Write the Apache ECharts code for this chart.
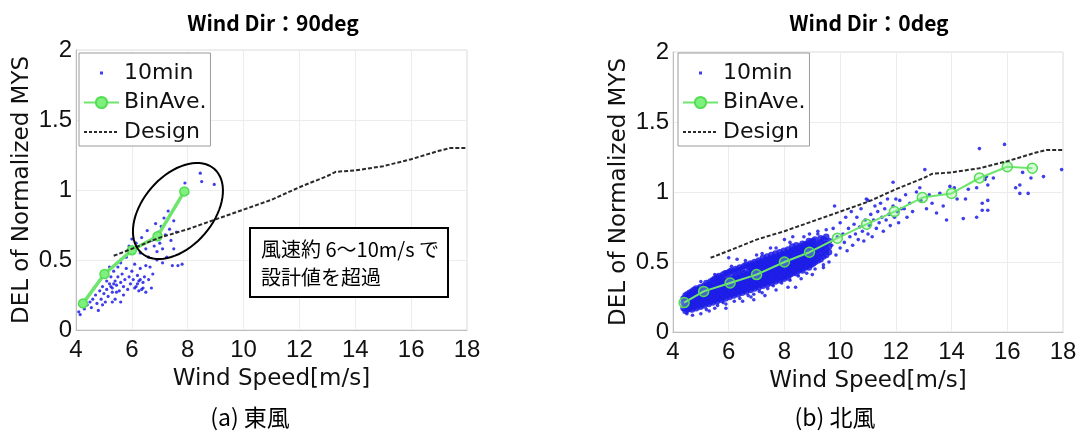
<!DOCTYPE html>
<html><head><meta charset="utf-8">
<script src="https://cdn.jsdelivr.net/npm/echarts@6/dist/echarts.min.js"></script>
<style>html,body{margin:0;padding:0;background:#fff}#c{width:1089px;height:437px}</style>
</head><body><div id="c"></div>
<script>
// ---------- data ----------
const xMin = 4, xMax = 18, xStep = 2;
const yMin = 0, yMax = 2, yStep = 0.5;
const titles = ['Wind Dir：90deg', 'Wind Dir：0deg'];
const captions = ['(a) 東風', '(b) 北風'];
const xName = 'Wind Speed[m/s]';
const yName = 'DEL of Normalized MYS';
const legendNames = ['10min', 'BinAve.', 'Design'];
const noteLines = ['風速約 6～10m/s で', '設計値を超過'];

// Design curve (same in both panels)
const design = [[5.35,0.53],[6,0.58],[7,0.66],[8,0.72],[9,0.79],[10,0.86],[11,0.93],[12,1.02],[13,1.1],[13.3,1.13],[14,1.14],[15,1.17],[16,1.22],[17,1.28],[17.4,1.3],[18,1.3]];

// East wind (90deg)
const eastBin = [[4.25,0.19],[5.02,0.4],[6.0,0.57],[6.92,0.67],[7.88,0.99]];
const east10 = [[4.1,0.13],[4.15,0.11],[4.3,0.15],[4.4,0.18],[4.5,0.2],[4.6,0.22],[4.55,0.16],[4.7,0.25],[4.75,0.19],[4.8,0.14],[4.85,0.28],[4.9,0.22],[4.95,0.31],[5.0,0.26],[5.05,0.2],[5.1,0.35],[5.1,0.29],[5.15,0.24],[5.2,0.33],[5.25,0.38],[5.3,0.3],[5.3,0.27],[5.35,0.42],[5.4,0.35],[5.4,0.22],[5.45,0.32],[5.5,0.45],[5.5,0.38],[5.55,0.28],[5.6,0.34],[5.6,0.48],[5.65,0.4],[5.7,0.31],[5.7,0.25],[5.75,0.36],[5.8,0.44],[5.8,0.52],[5.85,0.29],[5.9,0.38],[5.9,0.6],[5.95,0.33],[6.0,0.42],[6.0,0.55],[6.05,0.36],[6.1,0.3],[6.1,0.47],[6.15,0.62],[6.2,0.39],[6.2,0.33],[6.25,0.28],[6.3,0.36],[6.3,0.44],[6.35,0.66],[6.4,0.3],[6.4,0.34],[6.45,0.38],[6.5,0.27],[6.5,0.58],[6.55,0.71],[6.6,0.36],[6.6,0.52],[6.65,0.45],[6.7,0.64],[6.7,0.3],[6.75,0.4],[6.8,0.6],[6.85,0.76],[6.9,0.5],[6.9,0.56],[6.95,0.7],[7.0,0.62],[7.05,0.74],[7.1,0.58],[7.1,0.48],[7.15,0.8],[7.2,0.68],[7.25,0.52],[7.3,0.85],[7.35,0.72],[7.4,0.64],[7.45,0.46],[7.5,0.58],[7.5,0.78],[7.6,0.7],[7.65,0.46],[7.8,0.47],[7.9,1.05],[8.0,0.98],[8.45,1.12],[8.5,1.06],[8.95,1.04],[6.0,0.65],[5.6,0.5],[6.3,0.55],[6.5,0.46],[5.2,0.45],[4.95,0.18],[5.3,0.2],[4.65,0.3],[5.6,0.2],[5.35,0.33],[5.45,0.27],[5.25,0.31],[6.15,0.31],[6.35,0.29],[6.25,0.35]];

// North wind (0deg)
const northBin = [[4.4,0.21],[5.1,0.29],[6.05,0.35],[7.0,0.41],[8.0,0.5],[8.9,0.57],[9.9,0.67],[10.95,0.77],[11.95,0.86],[12.95,0.96],[14.0,0.99],[15.0,1.1],[16.0,1.18],[16.9,1.17]];
// dense core of the 10-min cloud: [wind speed, [DEL values]]
const northBand = [
 [4.38,[.17,.21,.24]],[4.45,[.15,.19,.23,.26]],[4.52,[.16,.2,.24,.27]],[4.6,[.17,.21,.25,.28]],[4.68,[.16,.2,.23,.27,.29]],
 [4.75,[.18,.22,.26,.3]],[4.83,[.17,.21,.25,.28,.31]],[4.9,[.19,.23,.27,.3]],[4.98,[.18,.22,.26,.29,.32]],[5.05,[.2,.24,.28,.31]],
 [5.12,[.19,.23,.27,.3,.33]],[5.2,[.21,.25,.29,.32,.35]],[5.28,[.2,.24,.28,.31,.34]],[5.35,[.22,.26,.3,.33,.36]],[5.43,[.21,.25,.29,.32,.37]],
 [5.5,[.23,.27,.31,.34,.38]],[5.58,[.22,.26,.3,.35,.39]],[5.65,[.24,.28,.32,.36,.4]],[5.73,[.23,.27,.31,.35,.39]],[5.8,[.25,.29,.33,.37,.41]],
 [5.88,[.24,.28,.32,.36,.42]],[5.95,[.26,.3,.34,.38,.42]],[6.03,[.25,.29,.33,.37,.43]],[6.1,[.27,.31,.35,.39,.44]],[6.18,[.26,.3,.34,.38,.43]],
 [6.25,[.28,.32,.36,.4,.45]],[6.33,[.27,.31,.35,.39,.44]],[6.4,[.29,.33,.37,.41,.46]],[6.48,[.28,.32,.36,.4,.45]],[6.55,[.3,.34,.38,.42,.47]],
 [6.63,[.29,.33,.37,.41,.48]],[6.7,[.31,.35,.39,.43,.47]],[6.78,[.3,.34,.38,.42,.46,.49]],[6.85,[.32,.36,.4,.44,.48]],[6.93,[.31,.35,.39,.43,.47,.5]],
 [7.0,[.33,.37,.41,.45,.49]],[7.08,[.32,.36,.4,.44,.48,.51]],[7.15,[.34,.38,.42,.46,.5]],[7.23,[.33,.37,.41,.45,.49,.53]],[7.3,[.35,.39,.43,.47,.51]],
 [7.38,[.34,.38,.42,.46,.5,.54]],[7.45,[.36,.4,.44,.48,.52]],[7.53,[.35,.39,.43,.47,.51,.55]],[7.6,[.37,.41,.45,.49,.53]],[7.68,[.36,.4,.44,.48,.52,.56]],
 [7.75,[.38,.42,.46,.5,.54]],[7.83,[.37,.41,.45,.49,.53,.57]],[7.9,[.39,.43,.47,.51,.55]],[7.98,[.38,.42,.46,.5,.54,.58]],[8.05,[.4,.44,.48,.52,.56]],
 [8.13,[.39,.43,.47,.51,.55,.59]],[8.2,[.41,.45,.49,.53,.57]],[8.28,[.42,.46,.5,.54,.58,.61]],[8.35,[.43,.47,.51,.55,.59]],[8.43,[.42,.46,.5,.54,.58,.62]],
 [8.5,[.44,.48,.52,.56,.6]],[8.58,[.45,.49,.53,.57,.61]],[8.65,[.44,.48,.52,.56,.6,.63]],[8.73,[.46,.5,.54,.58,.62]],[8.8,[.47,.51,.55,.59,.63]],
 [8.88,[.46,.5,.54,.58,.62,.65]],[8.95,[.48,.52,.56,.6,.64]],[9.03,[.49,.53,.57,.61,.65]],[9.1,[.5,.54,.58,.62,.66]],[9.2,[.51,.55,.59,.63]],
 [9.3,[.52,.56,.6,.64,.67]],[9.4,[.54,.58,.62,.66]],[9.5,[.55,.59,.63,.68]],[9.6,[.57,.61,.65]]
];
const northSparse = [[4.5,0.13],[4.7,0.12],[5.0,0.13],[5.3,0.15],[5.5,0.17],[5.9,0.2],[6.0,0.53],[6.3,0.52],[6.5,0.22],[6.8,0.25],[7.0,0.55],[7.2,0.28],[7.5,0.6],[7.7,0.3],[8.13,0.32],[8.4,0.32],[8.0,0.66],[8.3,0.68],[8.6,0.38],[8.9,0.7],[9.0,0.41],[9.2,0.72],[9.4,0.46],[9.6,0.5],[9.7,0.62],[9.75,0.74],[9.8,0.9],[9.85,0.55],[9.9,0.68],[10.0,0.6],[10.0,0.78],[10.1,0.7],[10.15,0.64],[10.2,0.82],[10.25,0.58],[10.3,0.74],[10.35,0.68],[10.4,0.86],[10.45,0.62],[10.5,0.77],[10.55,0.7],[10.6,0.82],[10.65,0.66],[10.7,0.75],[10.75,0.88],[10.8,0.72],[10.85,0.65],[10.9,0.8],[10.94,0.95],[11.0,0.94],[11.0,0.7],[11.05,0.76],[11.1,0.84],[11.15,0.68],[11.2,0.8],[11.25,0.9],[11.3,0.74],[11.35,0.86],[11.4,0.78],[11.45,0.92],[11.5,0.82],[11.55,0.72],[11.6,0.88],[11.65,0.8],[11.7,0.95],[11.75,0.84],[11.8,0.76],[11.9,1.07],[11.9,0.9],[11.95,0.82],[12.0,0.95],[12.05,0.86],[12.1,0.78],[12.14,0.94],[12.2,0.88],[12.3,0.88],[12.35,0.98],[12.4,0.82],[12.5,0.92],[12.6,0.86],[12.74,1.0],[12.86,1.03],[12.9,0.94],[13.04,1.16],[13.1,0.88],[13.2,0.98],[13.3,0.92],[13.46,0.85],[13.58,0.99],[13.7,0.9],[13.82,0.8],[13.94,1.04],[14.1,1.03],[14.2,0.95],[14.42,0.81],[14.5,0.95],[14.6,1.02],[14.9,0.82],[14.9,1.03],[15.0,1.31],[15.1,0.87],[15.1,0.92],[15.2,1.09],[15.25,1.11],[15.3,1.05],[15.3,0.94],[15.3,0.87],[15.5,1.1],[15.9,1.34],[16.3,1.03],[16.45,1.05],[16.45,0.99],[16.55,1.14],[16.75,0.99],[16.85,1.1],[17.3,1.11],[17.95,1.16],
 [5.2,0.16],[5.6,0.19],[5.8,0.21],[6.2,0.22],[6.4,0.24],[6.7,0.26],[6.9,0.27],[7.1,0.29],[7.4,0.31],[7.6,0.33],[7.9,0.35],[8.2,0.37],[8.5,0.4],[8.8,0.42],[9.1,0.45],[9.4,0.48],[5.0,0.36],[5.5,0.41],[6.1,0.47],[6.6,0.51],[7.2,0.56],[7.7,0.6],[8.2,0.64],[8.7,0.68],[9.2,0.7],[9.5,0.73],[6.9,0.23],[7.3,0.26],[5.9,0.17]];

// ---------- chart ----------
const northCore = northBand.flatMap(([x, ys]) => ys.map(y => [x, y]));
const chart = echarts.init(document.getElementById('c'), null, {renderer: 'canvas'});
const LAT = '"Liberation Sans", Arial, sans-serif';
const DJV = '"DejaVu Sans", sans-serif';
const CJK = '"Noto Sans CJK JP", sans-serif';
const BLUE = '#1c1ce8';
const grids = [
  {left: 76, top: 50, width: 391, height: 280},
  {left: 673, top: 52, width: 390, height: 280}
];
function xAxis(i) {
  return {type: 'value', gridIndex: i, min: xMin, max: xMax, interval: xStep,
    name: xName, nameLocation: 'middle', nameGap: 38,
    nameTextStyle: {fontFamily: DJV, fontSize: 23, color: '#111'},
    axisLine: {lineStyle: {color: '#bdbdbd'}}, axisTick: {show: false},
    axisLabel: {fontFamily: LAT, fontSize: 24, color: '#111', margin: 8},
    splitLine: {lineStyle: {color: '#ececec'}}};
}
function yAxis(i) {
  return {type: 'value', gridIndex: i, min: yMin, max: yMax, interval: yStep,
    name: yName, nameLocation: 'middle', nameGap: 42,
    nameTextStyle: {fontFamily: DJV, fontSize: 23, color: '#111'},
    axisLine: {show: true, lineStyle: {color: '#bdbdbd'}}, axisTick: {show: false},
    axisLabel: {fontFamily: LAT, fontSize: 24, color: '#111', margin: 4},
    splitLine: {lineStyle: {color: '#ececec'}}};
}
const dotIcon = 'path://M0,0M35,14M16,5.5h3v3h-3z';
const dashIcon = 'path://M0,0M35,14M0,6.1h3v2h-3zM5,6.1h3v2h-3zM10,6.1h3v2h-3zM15,6.1h3v2h-3zM20,6.1h3v2h-3zM25,6.1h3v2h-3zM30,6.1h3v2h-3z';
function legend(left) {
  return {left: left, top: 53, orient: 'vertical', padding: [8, 4, 2, 4], itemGap: 5.5,
    itemWidth: 35, itemHeight: 14, backgroundColor: '#fff', borderColor: '#9a9a9a', borderWidth: 1,
    textStyle: {fontFamily: DJV, fontSize: 22, lineHeight: 24, color: '#111'},
    selectedMode: false,
    data: [{name: legendNames[0], icon: dotIcon}, {name: legendNames[1]}, {name: legendNames[2], icon: dashIcon}]};
}
function scatter(i, pts, size) {
  return {type: 'scatter', name: legendNames[0], xAxisIndex: i, yAxisIndex: i, data: pts,
    symbol: 'circle', symbolSize: size, itemStyle: {color: BLUE, opacity: 0.85}, z: 2, silent: true};
}
function binLine(i, bin, width, sym) {
  return {type: 'line', name: legendNames[1], xAxisIndex: i, yAxisIndex: i, data: bin,
    symbol: 'circle', symbolSize: sym, showSymbol: true,
    lineStyle: {color: '#6ee66e', width: width},
    itemStyle: {color: i === 0 ? '#7ef07e' : 'rgba(140,240,140,0.35)', borderColor: '#55dd55', borderWidth: 1.5}, z: 3, silent: true};
}
function designLine(i) {
  return {type: 'line', name: legendNames[2], xAxisIndex: i, yAxisIndex: i, data: design,
    showSymbol: false, symbol: 'none',
    lineStyle: {color: '#2a2a2a', width: 2, type: [4, 2]}, itemStyle: {color: '#2a2a2a'}, z: 4, silent: true};
}
chart.setOption({
  animation: false,
  backgroundColor: '#fff',
  grid: grids.map(g => Object.assign({show: true, borderColor: '#dcdcdc', borderWidth: 1, backgroundColor: 'transparent'}, g)),
  xAxis: [xAxis(0), xAxis(1)],
  yAxis: [yAxis(0), yAxis(1)],
  legend: [legend(79), legend(678)],
  series: [
    scatter(0, east10, 3.2), binLine(0, eastBin, 3.5, 9), designLine(0),
    scatter(1, northSparse, 3.6), scatter(1, northCore, 6.5), binLine(1, northBin, 2, 10), designLine(1)
  ]
});

// ---------- annotations ----------
const center = chart.convertToPixel({gridIndex: 0}, [7.65, 0.85]);
const A = 55.6, B = 35.2, TH = 49.35 * Math.PI / 180;
const ell = [];
for (let k = 0; k < 72; k++) {
  const t = k / 72 * 2 * Math.PI;
  ell.push([center[0] + A * Math.cos(t) * Math.cos(TH) - B * Math.sin(t) * Math.sin(TH),
            center[1] - (A * Math.cos(t) * Math.sin(TH) + B * Math.sin(t) * Math.cos(TH))]);
}
const titleXs = [273, 869], capXs = [250, 835];
chart.setOption({
  graphic: [
    {type: 'text', x: titleXs[0], y: 23, style: {text: titles[0], font: 'bold 21px ' + CJK, fill: '#000', align: 'center', verticalAlign: 'middle'}},
    {type: 'text', x: titleXs[1], y: 23, style: {text: titles[1], font: 'bold 21px ' + CJK, fill: '#000', align: 'center', verticalAlign: 'middle'}},
    {type: 'text', x: capXs[0], y: 417, style: {text: captions[0], font: '23px ' + CJK, fill: '#000', align: 'center', verticalAlign: 'middle'}},
    {type: 'text', x: capXs[1], y: 417, style: {text: captions[1], font: '23px ' + CJK, fill: '#000', align: 'center', verticalAlign: 'middle'}},
    {type: 'polygon', shape: {points: ell}, style: {fill: 'none', stroke: '#000', lineWidth: 2}, z: 100},
    {type: 'rect', shape: {x: 250, y: 228, width: 198, height: 69}, style: {fill: '#fff', stroke: '#000', lineWidth: 2}, z: 100},
    {type: 'text', x: 261, y: 249, style: {text: noteLines[0], font: '20px ' + CJK, fill: '#000', align: 'left', verticalAlign: 'middle'}, z: 101},
    {type: 'text', x: 261, y: 277, style: {text: noteLines[1], font: '20px ' + CJK, fill: '#000', align: 'left', verticalAlign: 'middle'}, z: 101}
  ]
});
</script></body></html>
